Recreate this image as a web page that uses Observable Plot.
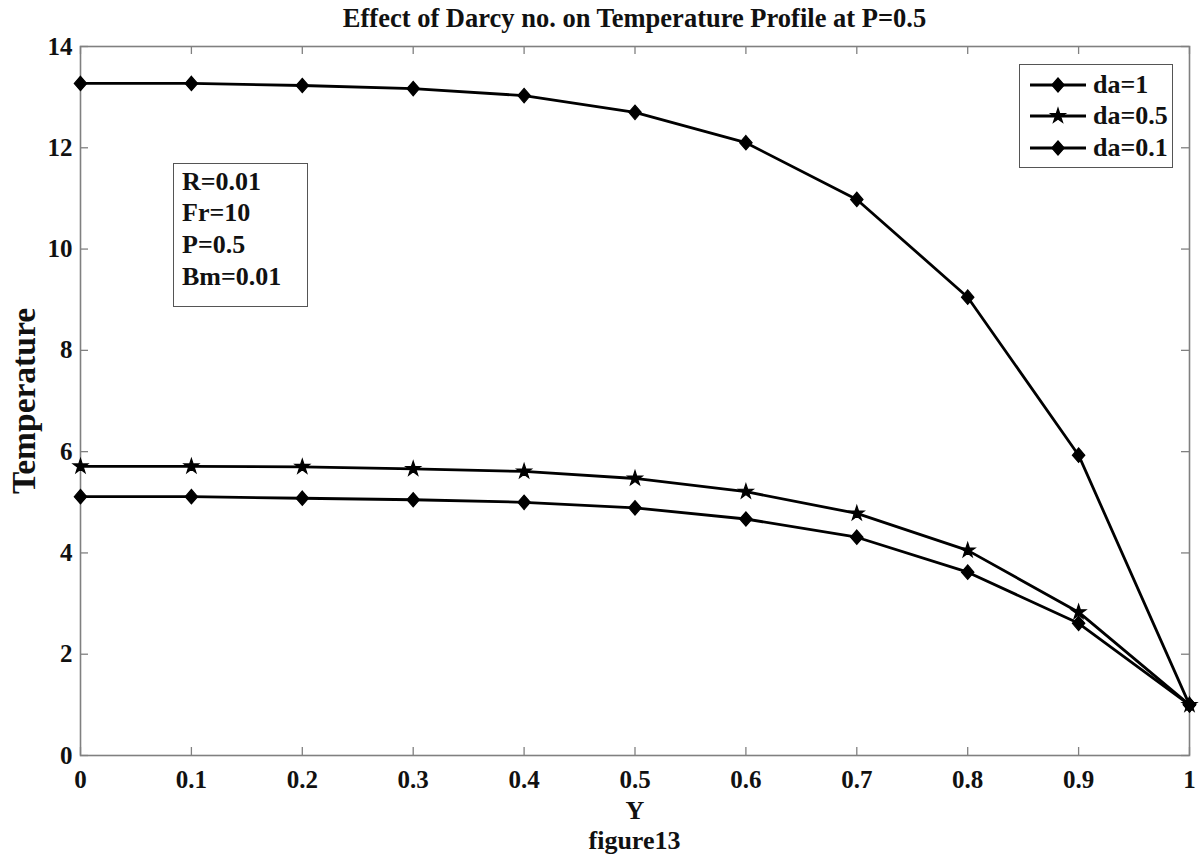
<!DOCTYPE html>
<html>
<head>
<meta charset="utf-8">
<script src="https://cdn.jsdelivr.net/npm/d3@7"></script>
<script src="https://cdn.jsdelivr.net/npm/@observablehq/plot@0.6"></script>
<style>
  html, body { margin: 0; padding: 0; background: #fff; }
  #wrap { position: relative; width: 1202px; height: 861px; font-family: "Liberation Serif", "Times New Roman", serif; font-weight: bold; color: #111; }
  #title { position: absolute; left: 0; top: 0; width: 1269px; height: 38px; line-height: 36px; text-align: center; font-size: 26.5px; }
  #chart { position: absolute; left: 0; top: 40px; }
  #caption { position: absolute; left: 0; top: 826px; width: 1269px; height: 30px; line-height: 30px; text-align: center; font-size: 26px; }
  .box { position: absolute; background: #fff; border: 1.5px solid #555; box-sizing: border-box; }
  #legend { left: 1019px; top: 64px; width: 154px; height: 104px; }
  #params { left: 173px; top: 163px; width: 135px; height: 144px; }
  .row { position: absolute; display: flex; align-items: center; font-size: 26px; white-space: nowrap; }
</style>
</head>
<body>
<div id="wrap">
  <div id="title"></div>
  <div id="chart"></div>
  <div id="caption"></div>
  <div id="legend" class="box"></div>
  <div id="params" class="box"></div>
</div>
<script>
// ---- data ----
const titleText = "Effect of Darcy no. on Temperature Profile at P=0.5";
const xLabel = "Y";
const yLabel = "Temperature";
const captionText = "figure13";
const Yvals = [0, 0.1, 0.2, 0.3, 0.4, 0.5, 0.6, 0.7, 0.8, 0.9, 1];
const da1 = [13.27, 13.27, 13.23, 13.17, 13.03, 12.70, 12.10, 10.98, 9.05, 5.93, 1.0];
const da05 = [5.71, 5.71, 5.70, 5.66, 5.61, 5.47, 5.21, 4.78, 4.05, 2.83, 1.0];
const da01 = [5.11, 5.11, 5.08, 5.05, 5.00, 4.89, 4.67, 4.31, 3.62, 2.61, 1.0];
const seriesNames = ["da=1", "da=0.5", "da=0.1"];
const seriesSymbols = ["diamond", "star", "diamond"];
const xTicks = [0, 0.1, 0.2, 0.3, 0.4, 0.5, 0.6, 0.7, 0.8, 0.9, 1];
const yTicks = [0, 2, 4, 6, 8, 10, 12, 14];
const paramLines = ["R=0.01", "Fr=10", "P=0.5", "Bm=0.01"];

// ---- build table ----
const seriesValues = [da1, da05, da01];
const rows = [];
seriesNames.forEach((name, i) => {
  Yvals.forEach((y, j) => rows.push({Y: y, T: seriesValues[i][j], series: name}));
});

const W = 1202, H = 780;
const mTop = 6, mBottom = 65, mLeft = 80, mRight = 13;
const plotW = W - mLeft - mRight, plotH = H - mTop - mBottom;
const axisGray = "#808080";
const tickLen = 8;

// squat diamond marker (MATLAB-like)
const matDiamond = {
  draw(context, size) {
    const sx = 6.2, sy = 7.2;
    context.moveTo(0, -sy);
    context.lineTo(sx, 0);
    context.lineTo(0, sy);
    context.lineTo(-sx, 0);
    context.closePath();
  }
};
const symbolFor = {diamond: matDiamond, star: d3.symbolStar};
const sizeFor = {diamond: 6, star: 4.6};

const dotMarks = seriesNames.map((name, i) =>
  Plot.dot(rows.filter(d => d.series === name), {
    x: "Y", y: "T", symbol: symbolFor[seriesSymbols[i]], r: sizeFor[seriesSymbols[i]],
    fill: "black", stroke: "black", strokeWidth: 1.2
  })
);

const chart = Plot.plot({
  width: W, height: H,
  marginTop: mTop, marginBottom: mBottom, marginLeft: mLeft, marginRight: mRight,
  x: {domain: [0, 1]},
  y: {domain: [0, 14]},
  style: {fontFamily: "Liberation Serif, Times New Roman, serif", fontWeight: "bold", fontSize: "25px", color: "#111", background: "white", overflow: "visible"},
  marks: [
    Plot.frame({stroke: axisGray, strokeWidth: 1.6}),
    Plot.tickX(xTicks, {x: d => d, insetTop: plotH - tickLen, stroke: axisGray, strokeWidth: 1.3}),
    Plot.tickX(xTicks, {x: d => d, insetBottom: plotH - tickLen, stroke: axisGray, strokeWidth: 1.3}),
    Plot.tickY(yTicks, {y: d => d, insetRight: plotW - tickLen, stroke: axisGray, strokeWidth: 1.3}),
    Plot.tickY(yTicks, {y: d => d, insetLeft: plotW - tickLen, stroke: axisGray, strokeWidth: 1.3}),
    Plot.axisX(xTicks, {tickSize: 0, tickPadding: 15, tickFormat: d => String(d), fontSize: 25, fontWeight: "bold", label: null}),
    Plot.axisY(yTicks, {tickSize: 0, tickPadding: 8, tickFormat: d => String(d), fontSize: 25, fontWeight: "bold", label: null}),
    Plot.line(rows, {x: "Y", y: "T", z: "series", stroke: "black", strokeWidth: 2.8}),
    ...dotMarks,
    Plot.text([xLabel], {frameAnchor: "bottom", dy: 55, textAnchor: "middle", lineAnchor: "middle", fontSize: 26, fontWeight: "bold", fill: "#111"}),
    Plot.text([yLabel], {frameAnchor: "left", dx: -56, rotate: -90, textAnchor: "middle", lineAnchor: "middle", fontSize: 33.5, fontWeight: "bold", fill: "#111"})
  ]
});
document.getElementById("chart").appendChild(chart);
document.getElementById("title").textContent = titleText;
document.getElementById("caption").textContent = captionText;

// ---- legend ----
const legend = document.getElementById("legend");
const legendRowsY = [20, 51, 83];
seriesNames.forEach((name, i) => {
  const row = document.createElement("div");
  row.className = "row";
  row.style.left = "10px";
  row.style.top = (legendRowsY[i] - 16) + "px";
  row.style.height = "32px";
  const r = sizeFor[seriesSymbols[i]];
  const path = d3.symbol(symbolFor[seriesSymbols[i]], r * r * Math.PI)();
  row.innerHTML = `<svg width="56" height="32" style="margin-right:7px"><line x1="0" x2="56" y1="16" y2="16" stroke="black" stroke-width="2.8"/><path d="${path}" transform="translate(28,16)" fill="black" stroke="black" stroke-width="1.2"/></svg><span>${name}</span>`;
  legend.appendChild(row);
});

// ---- parameter box ----
const params = document.getElementById("params");
const paramRowsY = [18, 49, 81, 113];
paramLines.forEach((t, i) => {
  const row = document.createElement("div");
  row.className = "row";
  row.style.left = "8px";
  row.style.top = (paramRowsY[i] - 16) + "px";
  row.style.height = "32px";
  row.textContent = t;
  params.appendChild(row);
});
</script>
</body>
</html>
